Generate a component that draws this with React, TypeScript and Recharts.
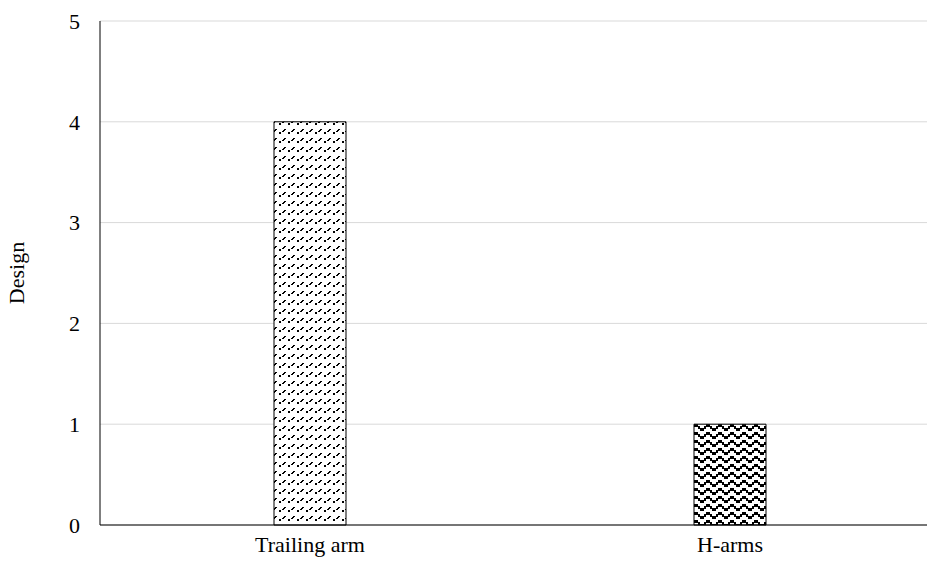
import React from 'react';
import { BarChart, Bar, XAxis, YAxis, CartesianGrid, Cell } from 'recharts';

// Arm types and their design scores
const armTypes = ['Trailing arm', 'H-arms'];
const designScores = [4, 1];
const yTicks = [0, 1, 2, 3, 4, 5];

const data = armTypes.map((name, i) => ({ name, design: designScores[i] }));
const fills = ['url(#dashDiag)', 'url(#zigzag)'];

const font = '"Liberation Serif", "Times New Roman", serif';

// column offsets of the zig-zag tile (2px columns)
const zigOffsets = [0, 2, 4, 4, 2, 0];

const App: React.FC = () => {
  return (
    <div
      style={{
        position: 'fixed',
        left: 0,
        top: 0,
        width: 927,
        height: 567,
        overflow: 'hidden',
        background: '#fff',
      }}
    >
      <BarChart width={960} height={567} data={data} margin={{ top: 21, right: 20, bottom: 0, left: 0 }}>
        <defs>
          {/* small up-right diagonal dashes */}
          <pattern id="dashDiag" patternUnits="userSpaceOnUse" width={9} height={9}>
            <rect width={9} height={9} fill="#fff" />
            <g fill="#000" shapeRendering="crispEdges">
              <rect x={0} y={6} width={2} height={2} />
              <rect x={3} y={5} width={2} height={1} />
              <rect x={4} y={4} width={2} height={1} />
              <rect x={5} y={3} width={2} height={1} />
            </g>
          </pattern>
          {/* blocky zig-zag */}
          <pattern id="zigzag" patternUnits="userSpaceOnUse" width={12} height={8}>
            <rect width={12} height={8} fill="#fff" />
            <g fill="#000" shapeRendering="crispEdges">
              {zigOffsets.map((y, k) => (
                <rect key={k} x={k * 2} y={y} width={2} height={3} />
              ))}
            </g>
          </pattern>
        </defs>
        <CartesianGrid vertical={false} stroke="#d9d9d9" />
        <XAxis
          dataKey="name"
          height={42}
          axisLine={{ stroke: '#000' }}
          tickLine={false}
          tickSize={0}
          tickMargin={11}
          tick={{ fill: '#000', fontSize: 22, fontFamily: font }}
        />
        <YAxis
          width={100}
          domain={[0, 5]}
          ticks={yTicks}
          interval={0}
          axisLine={{ stroke: '#000' }}
          tickLine={false}
          tickSize={0}
          tickMargin={20}
          tick={{ fill: '#000', fontSize: 22, fontFamily: font }}
          label={{
            value: 'Design',
            angle: -90,
            position: 'insideLeft',
            offset: 16,
            style: { textAnchor: 'middle', fill: '#000', fontSize: 22, fontFamily: font },
          }}
        />
        <Bar dataKey="design" barSize={72} stroke="#000" strokeWidth={1} isAnimationActive={false}>
          {data.map((d, i) => (
            <Cell key={d.name} fill={fills[i]} />
          ))}
        </Bar>
      </BarChart>
    </div>
  );
};

export default App;
